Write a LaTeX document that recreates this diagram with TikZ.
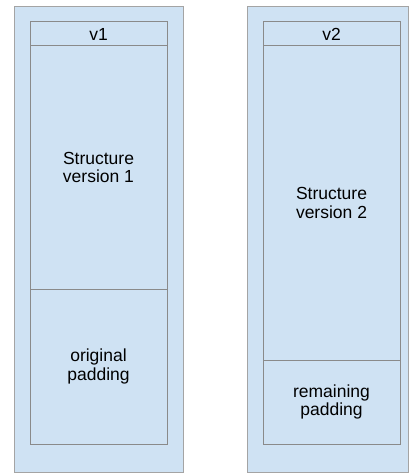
\documentclass[tikz,border=0pt]{standalone}
\usepackage{fontspec}
\setmainfont{Liberation Sans}
\usetikzlibrary{positioning}
\definecolor{pane}{HTML}{CFE2F3}
\definecolor{edge}{HTML}{8A8A8A}
\definecolor{rim}{HTML}{A4A4A4}
\tikzset{
  every node/.style={font=\fontsize{17.5}{18.3}\selectfont},
  % outer frame of one column
  shell/.style={draw=rim, fill=pane, line width=1pt, inner sep=0pt, outer sep=0pt,
    minimum width=#1, minimum height=465pt, anchor=north west},
  % stacked sections inside a column
  part/.style={draw=edge, fill=pane, line width=1pt, inner sep=0pt, outer sep=0pt,
    align=center, minimum width=137pt, minimum height=#1},
}

\begin{document}
\begin{tikzpicture}[x=1pt, y=-1pt]
  \useasboundingbox (0,0) rectangle (409,473);
  % ---------- version 1 ----------
  \node[shell=169pt] (shell1) at (14,7) {};
  \node[part=24pt, anchor=north west] (head1) at (30,22) {v1};
  \node[part=243pt, below=0pt of head1] (body1) {Structure\\version 1};
  \node[part=155pt, below=0pt of body1] (pad1) {original\\padding};
  % ---------- version 2 ----------
  \node[shell=161pt] (shell2) at (247,7) {};
  \node[part=24pt, anchor=north west] (head2) at (263,22) {v2};
  \node[part=314pt, below=0pt of head2] (body2) {Structure\\version 2};
  \node[part=84pt, below=0pt of body2] (pad2) {remaining\\padding};
\end{tikzpicture}
\end{document}
